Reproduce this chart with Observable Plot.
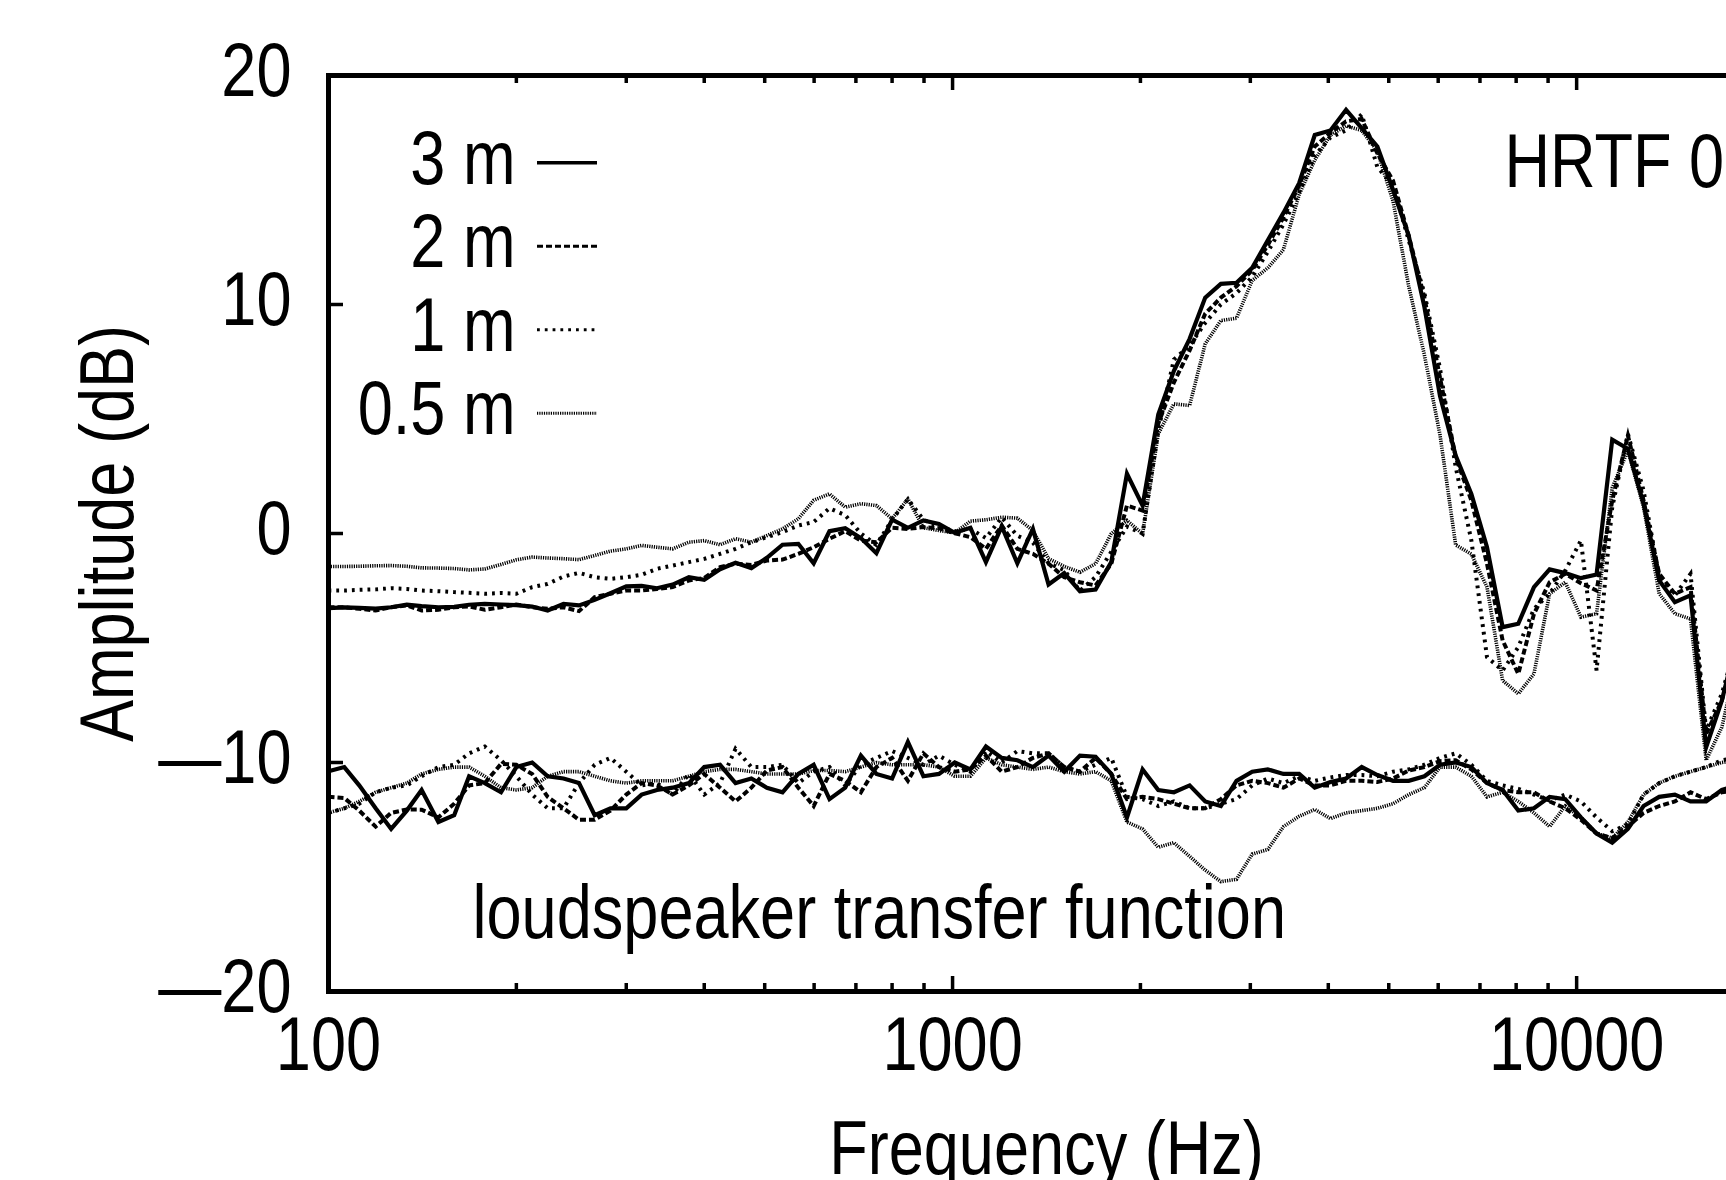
<!DOCTYPE html>
<html>
<head>
<meta charset="utf-8">
<script src="https://cdn.jsdelivr.net/npm/d3@7"></script>
<script src="https://cdn.jsdelivr.net/npm/@observablehq/plot@0.6"></script>
<style>
html, body { margin: 0; padding: 0; background: #fff; overflow: hidden; }
#chart svg { max-width: none !important; display: block; }
</style>
</head>
<body>
<div id="chart"></div>
<script>
// Frequencies (Hz), 1/12-octave grid
const freq = [
  100,106,112,119,126,133.5,141,150,159,168,
  178,189,200,212,224.5,238,252,267,283,300,
  317.5,336,356,378,400,424,449,476,504,534,
  566,599,635,673,713,755,800,848,898,951,
  1008,1068,1131,1199,1270,1345,1425,1510,1600,1695,
  1796,1903,2016,2136,2263,2398,2540,2691,2851,3021,
  3200,3390,3592,3805,4032,4271,4525,4794,5080,5382,
  5702,6041,6400,6781,7184,7611,8063,8543,9051,9589,
  10159,10763,11404,12082,12800,13561,14368,15222,16127,17086,
  18102,19179
];

// HRTF 0° amplitude (dB)
const hrtf3m = [
  -3.26,-3.23,-3.25,-3.28,-3.22,-3.11,-3.17,-3.22,-3.20,-3.11,
  -3.07,-3.10,-3.13,-3.19,-3.36,-3.07,-3.14,-2.90,-2.61,-2.31,
  -2.29,-2.39,-2.23,-1.91,-2.02,-1.56,-1.28,-1.51,-1.06,-0.49,
  -0.45,-1.30,0.10,0.23,-0.20,-0.86,0.61,0.25,0.57,0.42,
  0.03,0.25,-1.25,0.31,-1.30,0.20,-2.23,-1.73,-2.52,-2.45,
  -1.25,2.61,1.22,5.2,7.1,8.5,10.3,10.9,10.95,11.6,
  12.8,14.0,15.3,17.4,17.6,18.5,17.7,16.9,15.0,13.0,
  9.9,6.0,3.4,1.73,-0.6,-4.09,-3.94,-2.34,-1.57,-1.73,
  -1.95,-1.79,4.1,3.7,1.3,-2.05,-3.0,-2.7,-9.33,-7.3,
  -4.5,-3.5
];
const hrtf2m = [
  -3.22,-3.22,-3.29,-3.36,-3.22,-3.14,-3.36,-3.33,-3.22,-3.18,
  -3.33,-3.22,-3.10,-3.22,-3.29,-3.22,-3.39,-2.78,-2.63,-2.49,
  -2.49,-2.42,-2.34,-2.05,-1.94,-1.47,-1.32,-1.37,-1.18,-1.14,
  -0.89,-0.60,-0.23,0.10,-0.31,-0.38,0.25,0.20,0.28,0.23,
  0.01,-0.16,-0.67,0.35,-0.67,-0.89,-1.32,-1.91,-2.13,-2.27,
  -1.32,1.22,1.0,4.8,6.6,8.0,9.6,10.3,10.8,11.5,
  12.6,13.8,15.2,16.9,17.5,18.0,18.1,16.6,15.4,13.0,
  10.3,6.8,3.33,1.44,-1.32,-4.67,-6.13,-3.51,-2.13,-1.76,
  -2.17,-2.49,1.44,4.28,1.44,-1.76,-2.63,-2.34,-8.75,-7.3,
  -4.8,-3.8
];
const hrtf1m = [
  -2.49,-2.49,-2.46,-2.44,-2.39,-2.42,-2.49,-2.52,-2.56,-2.59,
  -2.63,-2.60,-2.63,-2.34,-2.20,-1.88,-1.72,-1.91,-1.98,-1.91,
  -1.80,-1.54,-1.40,-1.25,-1.11,-0.89,-0.67,-0.38,-0.16,0.06,
  0.35,0.5,1.1,0.8,0.0,-0.5,0.6,1.5,0.6,0.3,
  0.1,0.2,-0.2,0.7,-0.1,-0.4,-1.3,-1.6,-2.5,-1.9,
  -0.8,0.3,0.0,4.5,7.6,8.2,9.2,10.0,10.5,11.2,
  12.3,13.5,14.9,16.5,17.3,17.6,18.3,16.0,15.2,12.8,
  10.5,7.2,2.9,-0.3,-5.4,-5.98,-4.96,-3.29,-2.63,-1.62,
  -0.3,-5.98,1.15,4.35,1.88,-1.9,-2.7,-1.76,-8.6,-7.0,
  -4.6,-3.6
];
const hrtf05m = [
  -1.44,-1.44,-1.43,-1.41,-1.40,-1.43,-1.50,-1.51,-1.53,-1.59,
  -1.55,-1.35,-1.15,-1.03,-1.07,-1.10,-1.14,-0.96,-0.77,-0.67,
  -0.52,-0.60,-0.67,-0.38,-0.31,-0.49,-0.23,-0.38,-0.09,0.20,
  0.64,1.45,1.73,1.15,1.30,1.22,0.64,1.51,0.25,0.13,
  0.03,0.54,0.60,0.71,0.67,0.13,-1.10,-1.44,-1.69,-1.32,
  -0.01,0.57,-0.01,4.35,5.66,5.59,8.28,9.30,9.4,11.05,
  11.6,12.4,14.8,16.3,17.4,17.8,17.6,16.7,14.5,10.8,
  7.8,4.3,-0.5,-0.9,-2.34,-6.42,-7.0,-6.13,-2.63,-2.13,
  -3.65,-3.5,2.0,3.62,1.15,-2.63,-3.5,-3.73,-9.9,-8.46,
  -5.5,-4.5
];

// Loudspeaker transfer function amplitude (dB)
const ls3m = [
  -10.38,-10.2,-11.0,-12.0,-12.9,-12.1,-11.2,-12.6,-12.3,-10.6,
  -10.9,-11.3,-10.2,-10.0,-10.6,-10.7,-10.9,-12.3,-12.0,-12.0,
  -11.4,-11.2,-11.1,-10.9,-10.2,-10.1,-10.9,-10.7,-11.1,-11.3,
  -10.5,-10.1,-11.6,-11.1,-9.7,-10.5,-10.7,-9.1,-10.6,-10.5,
  -10.0,-10.3,-9.3,-9.8,-9.9,-10.2,-9.7,-10.4,-9.7,-9.75,
  -10.5,-12.4,-10.3,-11.2,-11.3,-11.0,-11.7,-11.9,-10.8,-10.4,
  -10.3,-10.5,-10.5,-11.1,-10.85,-10.7,-10.2,-10.55,-10.8,-10.8,
  -10.6,-10.1,-10.0,-10.2,-10.9,-11.2,-12.1,-12.0,-11.5,-11.6,
  -12.4,-13.1,-13.5,-12.9,-11.9,-11.5,-11.4,-11.7,-11.7,-11.2,
  -11.0,-11.0
];
const ls2m = [
  -11.5,-11.55,-12.1,-12.8,-12.2,-12.05,-12.06,-12.4,-11.8,-11.0,
  -10.9,-10.06,-10.1,-10.5,-11.5,-12.0,-12.5,-12.5,-12.1,-11.4,
  -10.9,-11.0,-11.4,-11.0,-10.5,-11.1,-11.7,-11.1,-10.35,-10.2,
  -11.1,-11.9,-10.5,-10.8,-11.3,-10.2,-9.8,-10.8,-9.6,-10.2,
  -10.4,-10.3,-9.7,-10.4,-10.2,-9.8,-9.6,-10.2,-10.4,-9.8,
  -10.5,-11.6,-11.5,-11.6,-11.8,-12.0,-12.0,-11.6,-11.0,-10.8,
  -10.9,-11.1,-10.7,-11.0,-11.0,-10.8,-10.8,-10.85,-10.7,-10.35,
  -10.2,-9.94,-9.9,-10.3,-10.9,-11.2,-11.3,-11.3,-11.7,-12.0,
  -12.5,-13.1,-13.3,-12.8,-12.2,-11.9,-11.7,-11.3,-11.6,-11.3,
  -11.2,-11.1
];
const ls1m = [
  -12.2,-12.0,-11.8,-11.3,-11.1,-11.0,-10.6,-10.2,-10.1,-9.6,
  -9.3,-9.9,-10.6,-11.4,-12.0,-12.0,-10.9,-10.1,-9.8,-10.4,
  -11.0,-10.9,-11.4,-10.5,-11.4,-10.9,-9.4,-10.2,-10.2,-10.1,
  -10.9,-10.4,-10.2,-11.0,-10.1,-9.8,-9.5,-9.8,-10.1,-9.7,
  -10.1,-10.4,-9.5,-10.0,-9.5,-9.6,-9.6,-10.2,-10.4,-10.1,
  -9.8,-11.5,-11.6,-11.9,-11.7,-12.0,-12.0,-11.8,-11.6,-11.0,
  -10.7,-10.9,-10.6,-10.8,-10.65,-10.55,-10.55,-10.6,-10.4,-10.3,
  -10.1,-9.8,-9.6,-10.1,-10.8,-11.0,-11.15,-11.4,-11.66,-11.4,
  -11.7,-12.4,-13.0,-12.7,-11.4,-10.9,-10.6,-10.4,-10.2,-9.9,
  -9.8,-9.8
];
const ls05m = [
  -12.2,-12.0,-11.7,-11.3,-11.1,-10.9,-10.5,-10.3,-10.2,-10.2,
  -10.6,-11.1,-11.2,-11.1,-10.6,-10.4,-10.4,-10.6,-10.8,-10.9,
  -10.8,-10.8,-10.8,-10.6,-10.4,-10.3,-10.3,-10.4,-10.5,-10.5,
  -10.5,-10.35,-10.35,-10.4,-10.2,-10.0,-10.1,-10.1,-10.1,-10.2,
  -10.6,-10.6,-9.8,-10.1,-10.2,-10.3,-10.2,-10.4,-10.5,-10.4,
  -10.8,-12.6,-12.9,-13.7,-13.5,-14.1,-14.7,-15.2,-15.1,-14.0,
  -13.8,-12.8,-12.35,-12.05,-12.45,-12.2,-12.1,-12.0,-11.8,-11.4,
  -11.1,-10.2,-10.2,-10.6,-11.5,-11.3,-11.7,-12.2,-12.8,-11.9,
  -12.4,-13.1,-13.3,-12.6,-11.4,-10.9,-10.6,-10.4,-10.2,-10.0,
  -9.9,-9.9
];

const seriesNames = ["3 m", "2 m", "1 m", "0.5 m"];
const xTicksMajor = [100, 1000, 10000];
const xTicksMinor = [200,300,400,500,600,700,800,900,2000,3000,4000,5000,6000,7000,8000,9000];
const yTicks = [-20, -10, 0, 10, 20];
const hrtfLabel = "HRTF 0°";
const speakerLabel = "loudspeaker transfer function";
const xLabel = "Frequency (Hz)";
const yLabel = "Amplitude (dB)";

const hrtfSeries = [hrtf3m, hrtf2m, hrtf1m, hrtf05m];
const speakerSeries = [ls3m, ls2m, ls1m, ls05m];

const lineStyles = [
  {strokeWidth: 4.2},
  {strokeWidth: 4.0, strokeDasharray: "6,3"},
  {strokeWidth: 4.0, strokeDasharray: "2.8,5"},
  {strokeWidth: 3.6, strokeDasharray: "1.2,1.1"}
];
const legendWidths = [3.4, 3.0, 3.0, 3.0];

const W = 1824, H = 1180;
const mL = 328, mR = 60, mT = 75, mB = 189;
const FW = W - mL - mR, FH = H - mT - mB;
const FONT = "'Liberation Sans', Arial, Helvetica, sans-serif";
const FS = 76;
const SQUEEZE = 0.83;

const toRows = arr => freq.map((f, i) => ({f, db: arr[i]}));

const lineMarks = [];
for (let s = seriesNames.length - 1; s >= 0; s--) {
  const st = lineStyles[s];
  for (const arr of [hrtfSeries[s], speakerSeries[s]]) {
    lineMarks.push(Plot.line(toRows(arr), {
      x: "f", y: "db", stroke: "black",
      strokeLinejoin: "miter", strokeMiterlimit: 6, strokeLinecap: "butt",
      ...st
    }));
  }
}

const legendText = seriesNames.map((name, i) =>
  Plot.text([name], {text: d => d, frameAnchor: "top-left", dx: 187, dy: 84 + i * 83.5,
    textAnchor: "end", lineAnchor: "middle", fontSize: FS, fill: "black"}));

const chart = Plot.plot({
  width: W, height: H,
  marginLeft: mL, marginRight: mR, marginTop: mT, marginBottom: mB,
  x: {type: "log", domain: [100, 20000]},
  y: {domain: [-20, 20]},
  style: {fontFamily: FONT, fontSize: FS + "px", background: "white", color: "black", maxWidth: "none"},
  marks: [
    ...lineMarks,
    Plot.frame({stroke: "black", strokeWidth: 5}),
    // bottom ticks (inward)
    Plot.tickX(xTicksMajor, {x: d => d, insetTop: FH - 15, strokeWidth: 3.5}),
    Plot.tickX(xTicksMinor, {x: d => d, insetTop: FH - 8, strokeWidth: 3.5}),
    // top ticks (inward)
    Plot.tickX(xTicksMajor, {x: d => d, insetBottom: FH - 15, strokeWidth: 3.5}),
    Plot.tickX(xTicksMinor, {x: d => d, insetBottom: FH - 8, strokeWidth: 3.5}),
    // left / right ticks (inward)
    Plot.tickY(yTicks, {y: d => d, insetRight: FW - 15, strokeWidth: 3.5}),
    Plot.tickY(yTicks, {y: d => d, insetLeft: FW - 15, strokeWidth: 3.5}),
    Plot.axisX({ticks: xTicksMajor, tickFormat: d => String(d), tickSize: 0, tickPadding: 25,
      label: null, fontSize: FS}),
    Plot.axisY({ticks: yTicks, tickFormat: d => d < 0 ? "\u2014" + (-d) : String(d),
      tickSize: 0, tickPadding: 37, dy: -4, label: null, fontSize: FS}),
    Plot.text([xLabel], {text: d => d, frameAnchor: "bottom", dy: 158, textAnchor: "middle",
      lineAnchor: "middle", fontSize: FS, fill: "black"}),
    Plot.text([yLabel], {text: d => d, frameAnchor: "left", dx: -220, rotate: -90, textAnchor: "middle",
      lineAnchor: "middle", fontSize: FS, fill: "black"}),
    Plot.text([hrtfLabel], {text: d => d, frameAnchor: "top-left", dx: 1176, dy: 87, textAnchor: "start",
      lineAnchor: "middle", fontSize: FS, fill: "black"}),
    Plot.text([speakerLabel], {text: d => d, frameAnchor: "top-left", dx: 144, dy: 838, textAnchor: "start",
      lineAnchor: "middle", fontSize: FS, fill: "black"}),
    ...legendText
  ]
});

// legend line samples
const svg = d3.select(chart);
const legendG = svg.append("g").attr("class", "legend-samples");
seriesNames.forEach((name, i) => {
  const st = lineStyles[i];
  const y = 162.7 + i * 83.5;
  const ln = legendG.append("line")
    .attr("x1", 537).attr("x2", 597).attr("y1", y).attr("y2", y)
    .attr("stroke", "black")
    .attr("stroke-width", legendWidths[i]);
  if (st.strokeDasharray) ln.attr("stroke-dasharray", st.strokeDasharray);
});

document.getElementById("chart").appendChild(chart);

// condensed look: compress every label horizontally along its baseline
svg.selectAll("text").each(function () {
  const len = this.getComputedTextLength();
  if (len > 0) {
    this.setAttribute("textLength", (len * SQUEEZE).toFixed(1));
    this.setAttribute("lengthAdjust", "spacingAndGlyphs");
  }
});
</script>
</body>
</html>
